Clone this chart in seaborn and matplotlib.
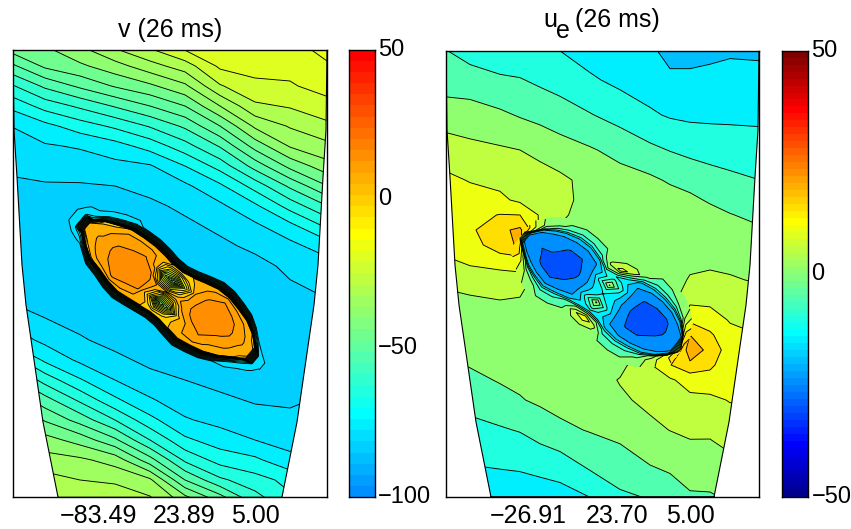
import numpy as np
import matplotlib
matplotlib.use('Agg')
import matplotlib.pyplot as plt
from matplotlib.colors import ListedColormap
from matplotlib.patches import Polygon
import seaborn as sns

sns.set_style('white', {'text.color': 'k', 'xtick.color': 'k', 'ytick.color': 'k'})
plt.rcParams['font.family'] = ['Liberation Sans', 'DejaVu Sans']

W, H = 851, 529

# outline of the section, picture pixels
edge_y = [50, 130, 177, 265, 305, 353, 422, 497]
v_edge_l = [13, 14, 17, 22, 26, 33, 43, 58]
v_edge_r = [327, 326, 323, 318, 314, 307, 297, 282]
u_edge_l = [446, 447, 450, 455, 459, 466, 476, 491]
u_edge_r = [759, 758, 755, 750, 746, 739, 729, 714]

# left panel, outer field, one list per column
v_x = [10, 45, 80, 115, 150, 185, 220, 255, 290, 330]
v_y = [46, 66, 86, 106, 126, 146, 166, 186, 206, 226, 246, 266, 300, 340, 360, 380, 400, 420, 440, 460, 480, 500]
v_far = [
    [-42, -51.5, -61, -69, -75, -77, -79, -81, -83, -84, -84.5, -84, -80.5, -72, -62, -53, -45.5, -38, -33, -28, -26, -25],
    [-40, -44, -54, -63, -71.5, -75.5, -78, -80.5, -82, -84, -84.5, -84.5, -83, -76.3, -71, -62, -53, -45.5, -38, -33, -28, -26],
    [-35, -41, -49, -59, -67.5, -74.5, -77.5, -80.5, -82, -83, -84, -84.5, -84.5, -79.3, -76, -69.5, -61, -52, -42, -34, -30, -27],
    [-29, -37, -44.5, -54.5, -64, -72, -76.5, -80, -82, -83, -84, -84.5, -84.5, -82, -78.5, -75, -69, -60, -49, -37, -31, -26],
    [-24, -32, -41, -50, -59.5, -68, -75.5, -78.5, -81, -83, -84, -84.5, -84.5, -84.5, -81.5, -78, -74.5, -68.5, -60, -48, -34, -29],
    [-18, -27.5, -36, -45, -54, -62, -70, -76, -79, -81, -83, -84, -84.5, -84.5, -83, -80, -77.5, -74.5, -69, -61, -50, -37],
    [-17, -19, -25.5, -35, -45, -54.5, -63, -71, -76, -79, -81, -83, -84.5, -84.5, -84, -81.5, -79, -76.5, -72.5, -67, -59, -46.5],
    [-17, -18.5, -21, -26, -34, -43, -53, -63, -71, -76, -79, -81.5, -84, -84.5, -84.5, -83, -80.5, -78, -75, -69, -63, -57.5],
    [-17, -18.5, -20.5, -24.5, -29.5, -34.5, -43.5, -54, -63, -71.5, -76.5, -79, -81.5, -83.5, -83, -82, -81, -78.5, -77, -73.5, -66.5, -64],
    [-12, -15.5, -18, -21.5, -26, -31, -36.5, -44.5, -54.5, -63.5, -72, -77, -80, -83, -82.5, -81, -79, -77, -74, -70, -64, -60],
]

# left panel, field along the blob: one list per station, across the blob
v_s = [-128, -112, -103, -92, -80, -66, -52, -38, -24, -12, 0, 12, 24, 38, 52, 66, 80, 92, 103, 112, 128]
v_up = [-4, -6, -6, -14, -20, -26, -28, -29, -28, -26, -26, -29, -33, -37, -37, -34, -30, -23, -14, -8, -6]
v_low = [10, 12, 12, 20, 28, 31, 35, 37, 35, 33, 31, 31, 33, 35, 32, 28, 21, 12, 5, 3, 2]
v_out = [26, 14, 5, 0]
v_blob = [
    [-83, -83, -83, -83, -83, -83, -83, -83, -83, -83, -83, -83, -83, -83, -83, -83, -83],
    [-83, -81.5, -79, -77, -76, -76, -76, -76, -76, -76, -76, -76, -76, -77, -80, -82, -83],
    [-83, -81, -78, -65, -40, -10, 5, 6, 6, 6, 5, -10, -40, -65, -79, -82, -83],
    [-83, -81, -78, -50, 0, 5, 7, 8, 9, 9, 8, 6, 0, -50, -81, -83, -83],
    [-83, -81, -78, -45, 3, 7, 10, 11, 12, 12, 11, 9, 4, -45, -82, -83, -83],
    [-83, -81, -79, -42, 6, 10, 13, 15, 16, 16, 15, 12, 7, -42, -82, -83, -83],
    [-83, -82, -81, -40, 7, 11, 14, 17.5, 18.5, 18.5, 18.5, 15.5, 8, -40, -82, -83, -83],
    [-83, -82, -82, -40, 7, 11, 15.5, 18.5, 19.5, 19.5, 17.5, 12, 7, -40, -82, -83, -83],
    [-83, -82, -82, -40, 6, 9, 8, 16, 17, 17, 16, 10, 6, -40, -82, -83, -83],
    [-83, -82, -82, -40, 5, -10, -30, -6, 10, 8, -2, 8, 5, -40, -82, -83, -83],
    [-83, -82, -82, -40, 5, -15, -46, -12, 6, -14, -42, -10, 5, -40, -82, -83, -83],
    [-83, -82, -82, -40, 5, 3, -15, 0, 8, -4, -30, -3, 5, -40, -82, -83, -83],
    [-83, -82, -82, -40, 6, 8, 10, 12, 13, 12, 3, 6, 5, -40, -82, -83, -83],
    [-83, -82, -82, -40, 7, 12, 16, 18, 18, 17, 12, 10, 6, -40, -82, -83, -83],
    [-83, -82, -82, -40, 9, 15, 18.5, 19.5, 19.5, 19.5, 16, 12, 7, -40, -82, -83, -83],
    [-83, -82, -82, -40, 8, 13, 17, 18.5, 18, 16, 12, 9, 6, -40, -81, -83, -83],
    [-83, -82, -81, -40, 7, 10, 13, 14, 14, 13, 11, 8, 6, -45, -80, -82, -83],
    [-83, -82, -81, -50, 6, 7, 9, 10, 10, 9, 8, 7, 6, -50, -78, -81, -83],
    [-83, -82, -81, -60, -10, 2, 5.5, 6, 6, 6, 5.5, 2, -10, -60, -78, -81, -83],
    [-83, -83, -80.5, -77, -76, -76, -76, -76, -76, -76, -76, -76, -76, -77, -79, -82, -83],
    [-83, -83, -83, -83, -83, -83, -83, -83, -83, -83, -83, -83, -83, -83, -83, -83, -83],
]

# right panel, outer field
u_x = [440, 470, 500, 520, 540, 560, 590, 620, 650, 670, 690, 710, 730, 760]
u_y = [46, 80, 115, 150, 180, 200, 215, 230, 245, 260, 280, 300, 320, 335, 350, 365, 380, 400, 430, 465, 500]
u_far = [
    [-5, -2.5, 2.9, 7.5, 11.5, 11.5, 11, 11, 10.3, 9, 6, 3.5, 3, 2.5, 0.5, -1, -2.7, -5, -7.7, -10.7, -13],
    [-8, -2.5, 2, 6.4, 9.7, 12, 13.5, 14, 13, 11, 7.5, 4.2, 3.7, 3.2, 2.3, 0.3, -1.3, -3.3, -6.5, -10, -13],
    [-8, -4.4, 0.9, 5.6, 8.7, 11, 15.2, 19, 17.5, 13, 7, 5, 3.5, 3, 2.3, 1, 0.4, -1.8, -5.5, -9.6, -13],
    [-9, -4.7, -0.4, 5, 7.8, 9, 15, 21, 21, 13, 8, 4.5, 3, 3, 2.5, 1.7, 0.9, -0.3, -4.7, -9.3, -13],
    [-10, -5.9, -1.5, 3.8, 6.9, 8.4, 9.5, 9, 3, 2, 2, 2.5, 3, 3, 3, 2.5, 1.8, 0.8, -2.8, -8.4, -13],
    [-10.5, -7, -2.7, 2.2, 6, 6.7, 5.8, 4.5, 3, 2.5, 2.5, 2.5, 3, 3, 3, 3, 2.5, 1.5, -1, -7.5, -12.5],
    [-12.5, -9.3, -4.7, 0.5, 3.5, 3, 3, 2.5, 2.5, 2.5, 2.5, 2.5, 2.5, 2.5, 2.5, 2.7, 2.5, 1.7, 0.3, -4, -10.5],
    [-13.5, -11.2, -6.9, -1.5, 1.9, 2.7, 2.8, 2.6, 2.6, 3, 3, 2.7, 2.7, 2.7, 3, 3.5, 5.3, 4.2, 1.3, -2, -6.3],
    [-14.5, -12.5, -9.3, -3.9, 0.9, 2.6, 2.9, 2.9, 2.9, 3, 3, 3, 3, 3.5, 3.5, 9.5, 8, 6.2, 3.8, 0, -5],
    [-17, -14, -10.5, -5.2, -0.6, 2, 3, 3, 3, 3, 3, 3, 3, 3, 4, 14.8, 9.3, 7.2, 5.1, 0.8, -2.5],
    [-17, -14, -11, -6.2, -1.9, 1.1, 3, 3.2, 3.4, 3.9, 5.4, 8.7, 14, 20, 24, 18.5, 12, 8.8, 5.9, 2.5, -0.9],
    [-16.5, -13.7, -11, -7, -2.9, -0.6, 1.7, 3.3, 3.6, 4, 6, 8.7, 12.5, 15.8, 18, 16, 13, 8.8, 5.8, 2.7, -0.8],
    [-16, -13.3, -11, -7.4, -3.9, -1.6, 0.2, 3, 3.7, 4.2, 5.3, 8, 9.6, 11.5, 12.7, 12, 11, 10.3, 7, 3.9, 0.3],
    [-16, -13.7, -11, -8, -5, -2.7, -1.1, 0.5, 2, 3, 4.7, 6.5, 8.5, 10, 10.5, 10.5, 10.5, 10, 8, 5.5, 3],
]

# right panel, field along the blob
u_s = [-100, -94, -86, -76, -66, -52, -38, -24, -12, 0, 12, 24, 38, 52, 66, 78, 88, 96]
u_up = [-2, -8, -17, -24, -29, -33, -33, -29, -25, -26, -32, -37, -39, -38, -35, -29, -20, -5]
u_low = [6, 11, 17, 24, 28, 32, 29, 26, 25, 23, 25, 28, 29, 27, 24, 17, 8, -3]
u_out = [14, 5, 0]
u_blob = [
    [12, 17, 18, 16, 14, 12, 10, 9, 10, 12, 14, 16, 19, 20, 18],
    [6, 10, 8, -5, -15, -20, -21, -21, -21, -20, -15, -5, 12, 18, 15],
    [3, 3, -4, -16, -20.5, -22, -23, -23, -23, -22, -20.5, -14, 3, 10.5, 11],
    [2.5, 1, -7, -17, -21, -23, -24.5, -25, -24.5, -23.5, -21, -17, -4, 5, 7],
    [2.5, -1, -7, -18, -21.5, -23, -24.5, -25.5, -26.5, -26, -22.5, -18, -6, 1.5, 3],
    [2.5, -2, -8, -18, -21.5, -25.5, -27, -28, -28, -27, -23, -18, -7, -2, 2],
    [2.5, -2, -8, -18, -21.5, -25.2, -27, -27.5, -27, -24.5, -22, -18, -8, -3, 1.5],
    [1.5, -3, -7, -17, -20.5, -22, -22.5, -23, -22.5, -21.5, -20, -15, -4, -1.5, 2],
    [2.5, 6, 0, -8, -14, -9, -14, -15, -14, -8, -14, -10, 1, 9, 2.5],
    [5, 12, -3, -10, -3, 5.5, -8, -10, -8, 6, -3, -12, -2, 14, 5],
    [2.5, 8, -3, -10, -14, -8, -12, -14, -13, -9, -14, -12, 0, 7, 2.5],
    [2.5, 1, -6, -17, -20, -20.5, -21, -21.5, -21, -20.5, -20, -16, -7, -3, 1.5],
    [1.5, -3, -8, -18, -22, -25.5, -27, -27.5, -27, -25.5, -22, -18, -8, -3, 1.5],
    [2, -2, -8, -18, -23.5, -26, -27.5, -28, -27.5, -25.5, -22.5, -18, -8, -3, 1.5],
    [3, 0, -7, -18, -22.5, -26, -27, -26.5, -25.3, -23, -21.5, -17, -5, 1, 3],
    [5, 3, -5, -17, -21, -23, -23.5, -23.5, -23, -22, -21, -16, 3, 7, 6],
    [12, 14, 10, -12, -20, -22, -22.5, -22.5, -22, -21, -19, -8, 12, 13, 11],
    [20, 21, 20, 18, 18, 18, 18, 18, 18, 18, 18, 18, 18, 18, 15],
]

fracs = [0.06, 0.15, 0.28, 0.42, 0.5, 0.58, 0.72, 0.85, 0.94]

v_levels = np.arange(-100, 55, 5)
u_levels = np.arange(-50, 55, 5)

v_ticks = [98, 184, 255]
v_labels = ['\u221283.49', '23.89', '5.00']
u_ticks = [528, 617, 690]
u_labels = ['\u221226.91', '23.70', '5.00']

# the 64 step jet the original was drawn with
idx = np.arange(1, 65)
jet = ListedColormap(np.column_stack([
    np.interp(idx, [24, 40, 56, 64], [0, 1, 1, 0.5]),
    np.interp(idx, [8, 24, 40, 56], [0, 1, 1, 0]),
    np.interp(idx, [0, 8, 24, 40], [0.5, 1, 1, 0]),
]))


def blob_mesh(s, up, low, out, cx, cy, deg):
    s = np.array(s, float)
    up = np.array(up, float)
    low = np.array(low, float)
    t = [up - o for o in out]
    t += [up + f * (low - up) for f in fracs]
    t += [low + o for o in out[::-1]]
    t = np.array(t).T
    a = np.radians(deg)
    ss = s[:, None]
    return cx + ss * np.cos(a) - t * np.sin(a), cy + ss * np.sin(a) + t * np.cos(a)


def draw_field(ax, x, y, far, bx, by, blob, levels, cmin, cmax, wedge):
    # each band takes the colour of its lower level
    cols = [jet(min(int((lv - cmin) / (cmax - cmin) * 64), 63)) for lv in levels[:-1]]
    X, Y = np.meshgrid(x, y)
    Z = np.array(far).T
    bz = np.array(blob)
    sets = [
        ax.contourf(X, Y, Z, levels=levels, colors=cols, zorder=1),
        ax.contour(X, Y, Z, levels=levels, colors='k', linewidths=0.65, linestyles='solid', zorder=2),
        ax.contourf(bx, by, bz, levels=levels, colors=cols, zorder=3),
        ax.contour(bx, by, bz, levels=levels, colors='k', linewidths=0.65, linestyles='solid', zorder=4),
    ]
    for c in sets:
        c.set_clip_path(wedge)


def panel(rect, el, er, ticks, labels):
    l, t, r, b = rect
    ax = fig.add_axes([l / W, 1 - b / H, (r - l) / W, (b - t) / H])
    ax.set_xlim(l, r)
    ax.set_ylim(b, t)
    pts = [(el[0], t)] + list(zip(el, edge_y)) + [(el[-1], b), (er[-1], b)] + list(zip(er, edge_y))[::-1] + [(er[0], t)]
    wedge = Polygon(pts, closed=True, fill=False, ec='k', lw=0.8, zorder=5)
    ax.add_patch(wedge)
    ax.set_yticks([])
    ax.set_xticks(ticks)
    ax.set_xticklabels(labels, fontsize=18)
    ax.tick_params(axis='x', length=0, pad=5)
    for sp in ax.spines.values():
        sp.set_visible(True)
        sp.set_color('k')
        sp.set_linewidth(1.0)
    return ax, wedge


def color_strip(rect, bot, top, n, cmin, cmax, ticks, labels):
    l, t, r, b = rect
    cax = fig.add_axes([l / W, 1 - b / H, (r - l) / W, (b - t) / H])
    step = (top - bot) / n
    vals = (bot + step * (np.arange(n) + 0.5))[::-1]
    sns.heatmap(vals[:, None], cmap=jet, vmin=cmin, vmax=cmax, cbar=False, ax=cax,
                xticklabels=False, yticklabels=False)
    cax.set_yticks([(top - v) / step for v in ticks])
    cax.set_yticklabels(labels, fontsize=17, rotation=0, va='center')
    cax.yaxis.tick_right()
    cax.tick_params(axis='y', direction='in', length=3, width=0.7, left=True, right=True, pad=2.5)
    for sp in cax.spines.values():
        sp.set_visible(True)
        sp.set_color('k')
        sp.set_linewidth(1.0)


fig = plt.figure(figsize=(W / 100, H / 100), dpi=100)

ax1, wedge1 = panel((12.7, 49.5, 327.3, 497.3), v_edge_l, v_edge_r, v_ticks, v_labels)
bx, by = blob_mesh(v_s, v_up, v_low, v_out, 168, 290, 40)
draw_field(ax1, v_x, v_y, v_far, bx, by, v_blob, v_levels, -160, 80, wedge1)

ax2, wedge2 = panel((445.7, 50.7, 759.3, 496.7), u_edge_l, u_edge_r, u_ticks, u_labels)
bx, by = blob_mesh(u_s, u_up, u_low, u_out, 602, 295, 38)
draw_field(ax2, u_x, u_y, u_far, bx, by, u_blob, u_levels, -50, 50, wedge2)

color_strip((349.3, 49.5, 374.7, 497.3), -100, 50, 40, -160, 80, [50, 0, -50, -100],
            ['50', '0', '\u221250', '\u2212100'])
color_strip((781.7, 50.7, 808, 496.7), -50, 50, 64, -50, 50, [50, 0, -50],
            ['50', '0', '\u221250'])

fig.text(170 / W, 1 - 37 / H, 'v (26 ms)', ha='center', va='baseline', fontsize=18)
fig.text(543 / W, 1 - 27 / H, 'u', ha='left', va='baseline', fontsize=18)
fig.text(556 / W, 1 - 38 / H, 'e', ha='left', va='baseline', fontsize=18)
fig.text(575 / W, 1 - 27 / H, '(26 ms)', ha='left', va='baseline', fontsize=18)

fig.savefig('out.png', dpi=100)
